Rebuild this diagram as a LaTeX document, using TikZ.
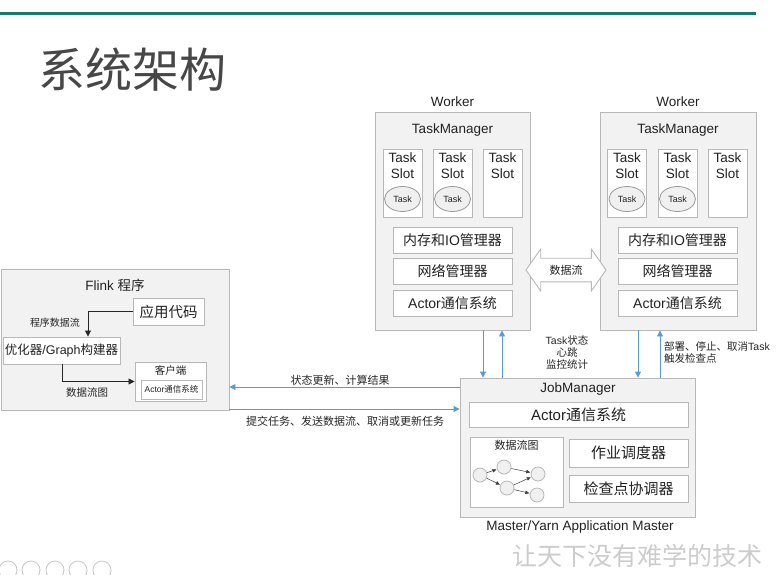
\documentclass[tikz,border=0pt]{standalone}
\usepackage{fontspec}
\setmainfont{Liberation Sans}
\newfontfamily\cjk{Noto Sans CJK SC}
\usetikzlibrary{arrows.meta,shapes.geometric,shapes.arrows}
\definecolor{boxline}{HTML}{B8B8B8}
\definecolor{boxfill}{HTML}{F2F2F2}
\definecolor{arrowblue}{HTML}{5B9BD5}
\definecolor{tealline}{HTML}{17786C}
\definecolor{txt}{HTML}{222222}
\newcommand\zh[1]{{\cjk #1}}
\newcommand\fs[1]{\fontsize{#1}{#1}\selectfont}
\begin{document}
\begin{tikzpicture}[x=1pt,y=-1pt,
  outerbox/.style={draw=boxline, fill=boxfill, line width=0.9pt, inner sep=0pt},
  innerbox/.style={draw=boxline, fill=white, line width=0.9pt, inner sep=0pt, text=txt},
  lbl/.style={inner sep=0pt, text=txt},
  slotbox/.style={innerbox, minimum width=39, minimum height=68},
  slottext/.style={lbl, align=center, font=\fontsize{13.5}{16}\selectfont},
  taskell/.style={ellipse, draw=black!40, fill=gray!12, line width=0.8pt, minimum width=36, minimum height=25, inner sep=0pt, font=\fs{9}, text=txt},
  mgrbox/.style={innerbox, minimum width=119, minimum height=26, font=\fs{14}},
  bluearrow/.style={draw=arrowblue, line width=0.9pt, -{Triangle[length=6pt,width=6pt]}},
  blackarrow/.style={draw=black!85, line width=0.8pt, -{Triangle[length=6pt,width=6pt]}},
  grapharrow/.style={draw=black!75, line width=0.5pt, -{Triangle[length=4pt,width=3.5pt]}, shorten >=0.5pt},
  gnode/.style={circle, draw=boxline, fill=gray!12, line width=0.8pt, minimum size=14, inner sep=0pt},
  smalllbl/.style={lbl, font=\fontsize{10.5}{12}\selectfont, text=black!85}
]
\useasboundingbox (0,0) rectangle (782,574);

% top decoration
\draw[tealline, line width=3pt] (0,13) -- (756,13);
\node[lbl, anchor=west, font=\fs{47}, text=black!72] (title) at (38,70) {\zh{系统架构}};

% helper coordinates
\coordinate (xa) at (483,0);
\coordinate (xb) at (502,0);
\coordinate (xc) at (638,0);
\coordinate (xd) at (660,0);
\coordinate (xf) at (88,0);
\coordinate (xg) at (62,0);
\coordinate (ya) at (0,387);
\coordinate (yb) at (0,409);

% ---------- Worker 1 ----------
\node[outerbox, minimum width=155, minimum height=218] (w1) at (452.5,221) {};
\node[lbl, font=\fs{13.5}] (w1l) at (452.5,102) {Worker};
\node[lbl, font=\fs{13.5}] (tm1) at (452.5,130) {TaskManager};
\node[slotbox] (s11) at (402.5,183) {};
\node[slotbox] (s12) at (452.5,183) {};
\node[slotbox] (s13) at (502.5,183) {};
\node[slottext] (s11t) at (402.5,166) {Task\\Slot};
\node[slottext] (s12t) at (452.5,166) {Task\\Slot};
\node[slottext] (s13t) at (502.5,166) {Task\\Slot};
\node[taskell] (t11) at (402.5,199) {Task};
\node[taskell] (t12) at (452.5,199) {Task};
\node[mgrbox] (m1) at (452.5,240) {\zh{内存和}IO\zh{管理器}};
\node[mgrbox] (n1) at (452.5,271) {\zh{网络管理器}};
\node[mgrbox] (a1) at (452.5,303) {Actor\zh{通信系统}};

% ---------- Worker 2 ----------
\node[outerbox, minimum width=156, minimum height=218] (w2) at (678,221) {};
\node[lbl, font=\fs{13.5}] (w2l) at (678,102) {Worker};
\node[lbl, font=\fs{13.5}] (tm2) at (678,130) {TaskManager};
\node[slotbox] (s21) at (627,183) {};
\node[slotbox] (s22) at (677.5,183) {};
\node[slotbox] (s23) at (727.5,183) {};
\node[slottext] (s21t) at (627,166) {Task\\Slot};
\node[slottext] (s22t) at (677.5,166) {Task\\Slot};
\node[slottext] (s23t) at (727.5,166) {Task\\Slot};
\node[taskell] (t21) at (627,199) {Task};
\node[taskell] (t22) at (677.5,199) {Task};
\node[mgrbox] (m2) at (677.5,240) {\zh{内存和}IO\zh{管理器}};
\node[mgrbox] (n2) at (677.5,271) {\zh{网络管理器}};
\node[mgrbox] (a2) at (677.5,303) {Actor\zh{通信系统}};

% data flow double arrow
\node[double arrow, draw=boxline, fill=white, line width=0.9pt,
      double arrow head extend=9pt, double arrow tip angle=110,
      minimum height=80, minimum width=42, inner xsep=2pt, inner ysep=6pt,
      font=\fs{11}, text=txt] (df) at (566,270) {\zh{数据流}};

% ---------- Flink program ----------
\node[outerbox, minimum width=228, minimum height=141] (fl) at (115,339.5) {};
\node[lbl, font=\fs{13.5}] (fll) at (115,285) {Flink \zh{程序}};
\node[innerbox, minimum width=71, minimum height=27, font=\fs{14.5}] (app) at (168.5,311.5) {\zh{应用代码}};
\node[innerbox, minimum width=117, minimum height=27, font=\fs{12.5}] (opt) at (61.5,350.5) {\zh{优化器}/Graph\zh{构建器}};
\node[innerbox, minimum width=71, minimum height=39] (cl) at (170.5,381.5) {};
\node[lbl, font=\fs{10.5}] (cll) at (170.5,370) {\zh{客户端}};
\node[innerbox, minimum width=61, minimum height=19, font=\fs{8.5}] (cla) at (171.5,389.5) {Actor\zh{通信系统}};
\draw[blackarrow] (app.west) -| (opt.north -| xf);
\node[smalllbl, font=\fs{10}] (l1) at (55,323) {\zh{程序数据流}};
\draw[blackarrow] (opt.south -| xg) |- (cl.west);
\node[smalllbl] (l2) at (87,393) {\zh{数据流图}};

% ---------- JobManager ----------
\node[outerbox, minimum width=235, minimum height=139] (jm) at (577.5,447.5) {};
\node[lbl, font=\fs{13.5}] (jml) at (578,389) {JobManager};
\node[innerbox, minimum width=219, minimum height=25, font=\fs{15}] (jma) at (578.5,414.5) {Actor\zh{通信系统}};
\node[innerbox, minimum width=93, minimum height=70] (dg) at (516.5,472) {};
\node[lbl, font=\fs{11}] (dgl) at (516.5,445) {\zh{数据流图}};
\node[gnode] (g1) at (480,475) {};
\node[gnode] (g2) at (504,467) {};
\node[gnode] (g3) at (507,488) {};
\node[gnode] (g4) at (538,474) {};
\node[gnode] (g5) at (537,495) {};
\draw[grapharrow] (g1) -- (g2);
\draw[grapharrow] (g1) -- (g3);
\draw[grapharrow] (g2) -- (g4);
\draw[grapharrow] (g3) -- (g4);
\draw[grapharrow] (g3) -- (g5);
\node[innerbox, minimum width=119, minimum height=28, font=\fs{15}] (sch) at (628.5,453) {\zh{作业调度器}};
\node[innerbox, minimum width=119, minimum height=27, font=\fs{15}] (ckp) at (628.5,488.5) {\zh{检查点协调器}};
\node[lbl, font=\fs{13.5}] (mst) at (580,527) {Master/Yarn Application Master};

% ---------- connectors ----------
\draw[bluearrow] (w1.south -| xa) -- (jm.north -| xa);
\draw[bluearrow] (jm.north -| xb) -- (w1.south -| xb);
\draw[bluearrow] (w2.south -| xc) -- (jm.north -| xc);
\draw[bluearrow] (jm.north -| xd) -- (w2.south -| xd);
\draw[bluearrow] (jm.west |- ya) -- (fl.east |- ya);
\draw[bluearrow] (fl.east |- yb) -- (jm.west |- yb);

\node[smalllbl, font=\fs{11}] (lstate) at (340,380) {\zh{状态更新、计算结果}};
\node[smalllbl, font=\fs{11}] (lsubmit) at (345,421) {\zh{提交任务、发送数据流、取消或更新任务}};
\node[smalllbl, align=center] (ltask) at (567,352) {Task\zh{状态}\\\zh{心跳}\\\zh{监控统计}};
\node[smalllbl, align=left, anchor=west] (ldeploy) at (664,352) {\zh{部署、停止、取消}Task\\\zh{触发检查点}};

% footer
\node[lbl, font=\fs{25}, text=black!20] (footer) at (637,556) {\zh{让天下没有难学的技术}};
\foreach \cx in {8,31,55,78,102} \draw[black!22, line width=0.8pt] (\cx,570) circle (9);
\end{tikzpicture}
\end{document}
